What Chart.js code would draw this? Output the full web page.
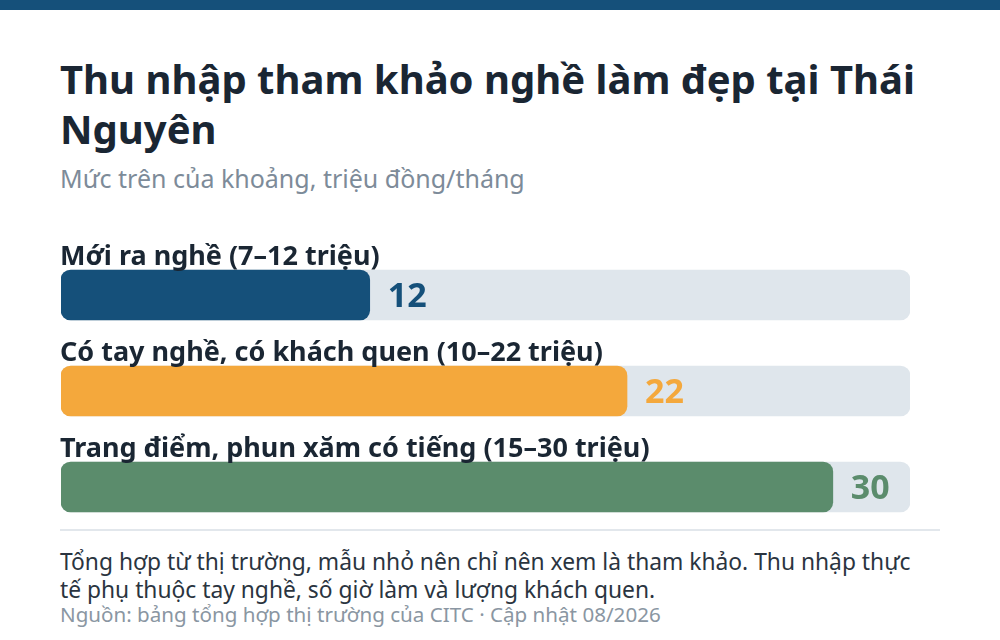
<!DOCTYPE html>
<html lang="vi">
<head>
<meta charset="utf-8">
<title>Thu nhập tham khảo nghề làm đẹp tại Thái Nguyên</title>
<script src="https://cdn.jsdelivr.net/npm/chart.js@4.4.1/dist/chart.umd.min.js"></script>
<style>
  html, body { margin: 0; padding: 0; background: #ffffff; }
  body { width: 1000px; height: 640px; position: relative; overflow: hidden; font-family: "Noto Sans", sans-serif; }
  .stripe { position: absolute; left: 0; top: 0; width: 1000px; height: 10px; background: #15507a; }
  h1 { position: absolute; left: 60px; top: 54px; width: 880px; margin: 0; font-size: 40px; line-height: 50px; font-weight: 700; color: #1a2633; }
  .sub { position: absolute; left: 60px; top: 162px; margin: 0; font-size: 25px; line-height: 32px; color: #7d8b99; }
  .chart-box { position: absolute; left: 0; top: 200px; width: 1000px; height: 340px; }
  .rule { position: absolute; left: 60px; top: 529px; width: 880px; height: 2px; background: #e2e7ec; }
  .note { position: absolute; left: 60px; top: 548px; width: 870px; margin: 0; font-size: 22.8px; line-height: 28px; color: #2a3440; }
  .src { position: absolute; left: 60px; top: 601px; margin: 0; font-size: 20.6px; line-height: 26px; color: #8a96a2; white-space: nowrap; }
</style>
</head>
<body>
<div class="stripe"></div>
<h1>Thu nhập tham khảo nghề làm đẹp tại Thái Nguyên</h1>
<p class="sub">Mức trên của khoảng, triệu đồng/tháng</p>
<div class="chart-box"><canvas id="incomeChart"></canvas></div>
<div class="rule"></div>
<p class="note">Tổng hợp từ thị trường, mẫu nhỏ nên chỉ nên xem là tham khảo. Thu nhập thực tế phụ thuộc tay nghề, số giờ làm và lượng khách quen.</p>
<p class="src">Nguồn: bảng tổng hợp thị trường của CITC · Cập nhật 08/2026</p>

<script>
const CATEGORIES = ["Mới ra nghề (7–12 triệu)", "Có tay nghề, có khách quen (10–22 triệu)", "Trang điểm, phun xăm có tiếng (15–30 triệu)"];
const UPPER_VALUES = [12, 22, 30];
const BAR_COLORS = ["#15507a", "#f4a83c", "#5b8c6c"];
const AXIS_MAX = 33;
const TRACK_VALUES = CATEGORIES.map(() => AXIS_MAX);

// labels above each bar + value at bar end
const barLabels = {
  id: "barLabels",
  afterDatasetsDraw(chart) {
    const { ctx } = chart;
    const meta = chart.getDatasetMeta(1);
    ctx.save();
    meta.data.forEach((bar, i) => {
      const top = bar.y - bar.height / 2;
      ctx.font = "700 27px 'Noto Sans'";
      ctx.fillStyle = "#1a2633";
      ctx.textAlign = "left";
      ctx.textBaseline = "alphabetic";
      ctx.fillText(CATEGORIES[i], 60, top - 5);

      ctx.font = "700 34px 'Noto Sans'";
      ctx.fillStyle = BAR_COLORS[i];
      ctx.textBaseline = "middle";
      ctx.fillText(String(UPPER_VALUES[i]), bar.x + 18, bar.y + 2);
    });
    ctx.restore();
  }
};

const ctx = document.getElementById("incomeChart").getContext("2d");
new Chart(ctx, {
  type: "bar",
  data: {
    labels: CATEGORIES,
    datasets: [
      {
        data: TRACK_VALUES,
        backgroundColor: "#dfe6ec",
        borderRadius: 10,
        borderSkipped: false,
        barThickness: 50,
        grouped: false,
        order: 2
      },
      {
        data: UPPER_VALUES,
        backgroundColor: BAR_COLORS,
        borderRadius: 10,
        borderSkipped: false,
        barThickness: 50,
        grouped: false,
        order: 1
      }
    ]
  },
  options: {
    indexAxis: "y",
    responsive: true,
    maintainAspectRatio: false,
    animation: false,
    layout: { padding: { left: 61, right: 90, top: 47, bottom: 5 } },
    scales: {
      x: { display: false, min: 0, max: AXIS_MAX },
      y: { display: false, offset: true }
    },
    plugins: {
      legend: { display: false },
      tooltip: { enabled: false }
    }
  },
  plugins: [barLabels]
});
</script>
</body>
</html>
